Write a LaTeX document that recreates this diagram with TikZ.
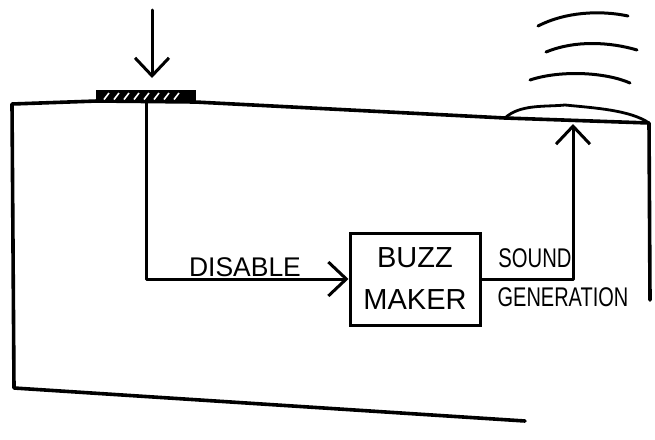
\documentclass[tikz,border=0pt]{standalone}
\usepackage{fontspec}
\setmainfont{Liberation Sans}
\usetikzlibrary{arrows.meta}
\newcommand{\hand}[2][0.82]{\scalebox{#1}[1]{#2}}
\tikzset{
  wire/.style={line width=3pt, line join=round, line cap=round},
  frame/.style={line width=3.6pt, line join=round, line cap=round},
  barb/.style={-{Straight Barb[length=18pt, width=34pt, line width=3pt]}},
  lbl/.style={font=\fontsize{27}{30}\selectfont, inner sep=1pt},
  boxst/.style={draw, line width=3pt, minimum width=130pt, minimum height=92pt, align=center, font=\fontsize{29}{42}\selectfont},
  wave/.style={line width=3pt, line cap=round},
  hatch/.style={white, line width=1.6pt},
}
\begin{document}
\begin{tikzpicture}[x=1pt,y=-1pt]
\useasboundingbox (0,0) rectangle (655,439);
% frame corners
\coordinate (tl) at (12,104);
\coordinate (bl) at (14,388);
\coordinate (br) at (525,421);
\coordinate (tm) at (505,118);
\coordinate (tr) at (649,123);
\coordinate (rb) at (650,300);
% housing
\draw[frame] (br) -- (bl) -- (tl) -- (97,101) -- (195,102) -- (tm) -- (tr) -- (rb);
% button
\node[draw, line width=2pt, fill=black, minimum width=98pt, minimum height=11pt, inner sep=0pt] (button) at (146,96) {};
\foreach \hx in {104,114,124,134,144,154,164,174}
  \draw[hatch] (\hx,99.5) -- (\hx+5,93);
% speaker bump
\draw[frame, line width=2.8pt] (tm) .. controls (520,104) and (545,107) .. (565,105)
   .. controls (595,108) and (630,110) .. (tr);
\coordinate (spk) at (573,124);
% press arrow
\coordinate (press) at (152,10);
\coordinate (presstip) at (152,78);
\draw[wire, barb] (press) -- (presstip);
% buzz maker
\node[boxst] (buzz) at (415,279) {BUZZ\\MAKER};
% connectors
\draw[wire, barb] (button.south) |- (buzz.west);
\draw[wire, barb] (buzz.east) -| (spk);
% labels
\node[lbl] (dis) at (245,267) {\hand[0.98]{DISABLE}};
\node[lbl] (snd) at (535,258) {\hand[0.75]{SOUND}};
\node[lbl] (gen) at (563,297) {\hand[0.74]{GENERATION}};
% sound waves
\draw[wave] (538,26) .. controls (565,12) and (600,10) .. (628,16);
\draw[wave] (546,52) .. controls (575,40) and (610,42) .. (637,50);
\draw[wave] (530,80) .. controls (560,70) and (605,72) .. (630,83);
\end{tikzpicture}
\end{document}
